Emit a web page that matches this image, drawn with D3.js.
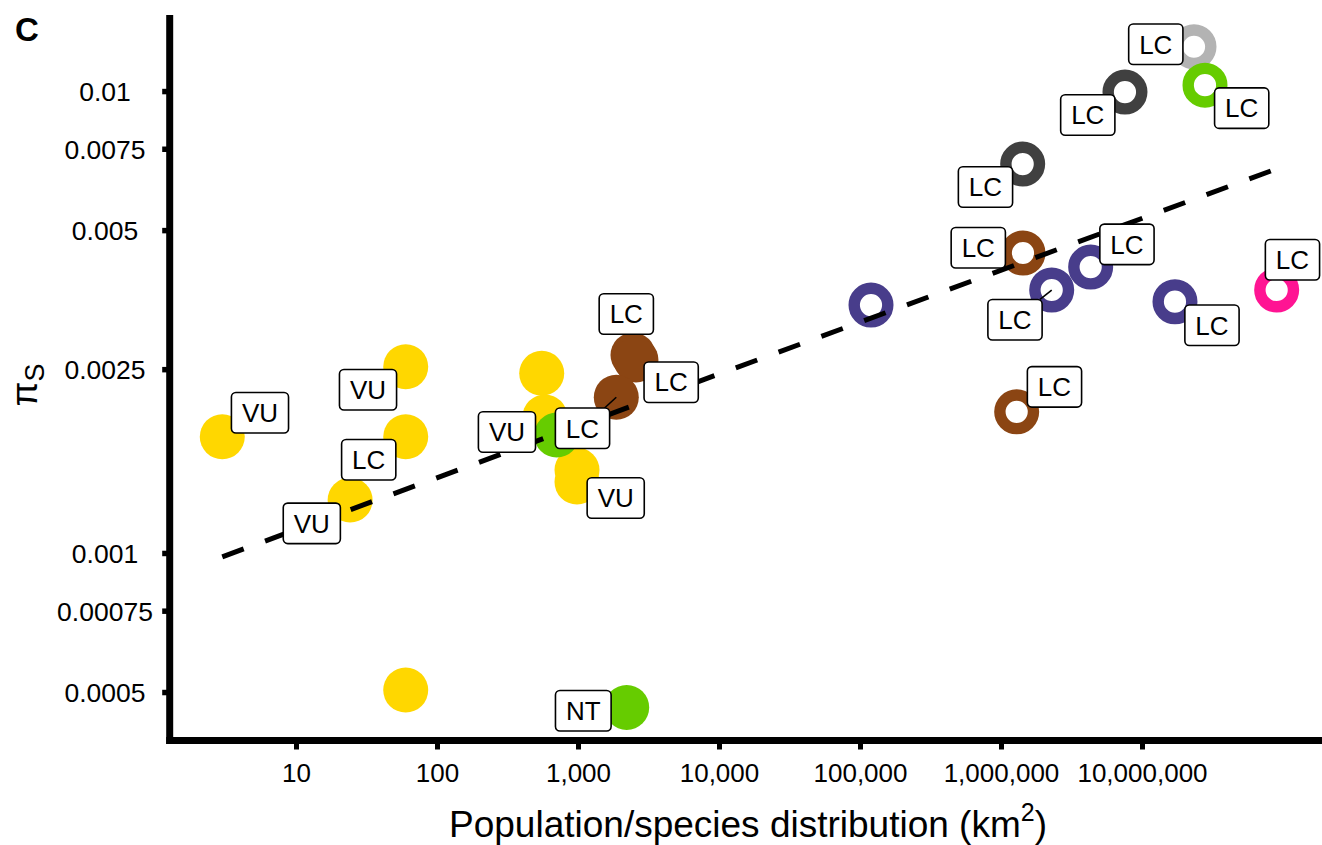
<!DOCTYPE html>
<html><head><meta charset="utf-8">
<script src="https://cdn.jsdelivr.net/npm/d3@7"></script>
<style>
body{margin:0;background:#fff}
text{font-family:"Liberation Sans",Arial,Helvetica,sans-serif;fill:#000}
</style>
</head><body>
<svg id="chart" width="1322" height="845"></svg>
<script>
// ---------- data ----------
const area  = [3.0, 60, 60, 24.2, 553, 583, 984, 984, 60, 706, 2215, 2455, 2577, 1869,
               1.197e5, 1.292e6, 1.432e6, 1.425e6, 2.289e6, 4.325e6, 1.714e7, 7.574e6, 2.338e7, 2.798e7, 9.02e7];
const piS   = [0.001785, 0.00253, 0.001785, 0.001302, 0.002449, 0.00197, 0.001512, 0.001424, 0.000505, 0.0018, 0.000463, 0.002683, 0.002617, 0.002173,
               0.003441, 0.002021, 0.004461, 0.00695, 0.003709, 0.004159, 0.003499, 0.00995, 0.01247, 0.0103, 0.003709];
const group = ["yellow","yellow","yellow","yellow","yellow","yellow","yellow","yellow","yellow","green","green","brown","brown","brown",
               "purple","brown","brown","darkgrey","purple","purple","purple","darkgrey","lightgrey","green","pink"];
const level = ["population","population","population","population","population","population","population","population","population","population","population","population","population","population",
               "species","species","species","species","species","species","species","species","species","species","species"];
const iucn  = ["VU","VU","LC","VU","","VU","","VU","","","NT","LC","LC","LC",
               "","LC","LC","LC","LC","LC","LC","LC","LC","LC","LC"];
const fitX = [3.0, 9.02e7];
const fitY = [0.000981, 0.006787];
const xTicks = [10, 100, 1000, 10000, 100000, 1000000, 10000000];
const yTicks = [0.0005, 0.00075, 0.001, 0.0025, 0.005, 0.0075, 0.01];
const yTickLabels = ["0.0005", "0.00075", "0.001", "0.0025", "0.005", "0.0075", "0.01"];

// ---------- layout / style ----------
const groupColor = {yellow:"#FFD700", green:"#66CC00", brown:"#8B4513", purple:"#483D8B",
                    pink:"#FF1493", darkgrey:"#404040", lightgrey:"#B3B3B3"};
const labelOffset = [[37.7,-24],[-37.7,23],[-37,23],[-38.3,23.3],null,[-38,15],null,[38.7,16],null,null,[-43.4,3.3],[-6.7,-41],[35.2,22.2],[-33.8,31],
                     null,[37.8,-25],[-44.7,-5.2],[-37.2,23],[-36.7,29.7],[36.3,-22.7],[37,23.6],[-37.2,23],[-38.2,-2.5],[36.7,23],[15.8,-30.3]];
const labelSegment = [13, 18];

const svg = d3.select("#chart");
svg.append("rect").attr("width",1322).attr("height",845).attr("fill","#fff");

const x = d3.scaleLog().domain([1.2776, 1.891e8]).range([170, 1322]);
const y = d3.scaleLog().domain([0.0003917, 0.01461]).range([741, 15]);

const pts = area.map((a,i)=>({a, p:piS[i], g:group[i], lv:level[i], lab:iucn[i], off:labelOffset[i], i}));

// axes
const yAx = svg.append("g").attr("transform","translate(169.7,0)")
  .call(d3.axisLeft(y).tickValues(yTicks).tickSize(7.5).tickPadding(0).tickFormat((d,i)=>yTickLabels[i]));
yAx.select(".domain").remove();
yAx.selectAll(".tick line").attr("stroke","#000").attr("stroke-width",5.5);
yAx.selectAll(".tick text").attr("text-anchor","middle").attr("x",105-169.7).attr("dy",null)
  .attr("y",9.5).style("font-size","26.5px").attr("fill","#000");

const xAx = svg.append("g").attr("transform","translate(0,744)")
  .call(d3.axisBottom(x).tickValues(xTicks).tickSize(5.5).tickPadding(0).tickFormat(d3.format(",")));
xAx.select(".domain").remove();
xAx.selectAll(".tick line").attr("stroke","#000").attr("stroke-width",5);
xAx.selectAll(".tick text").attr("dy",null).attr("y",38).style("font-size","26px").attr("fill","#000");

// axis lines
svg.append("line").attr("x1",169.7).attr("x2",169.7).attr("y1",15).attr("y2",744).attr("stroke","#000").attr("stroke-width",7);
svg.append("line").attr("x1",166.2).attr("x2",1322).attr("y1",740.5).attr("y2",740.5).attr("stroke","#000").attr("stroke-width",7);

// points
const R = 22.5;
svg.append("g").selectAll("circle").data(pts).join("circle")
  .attr("cx",d=>x(d.a)).attr("cy",d=>y(d.p))
  .attr("r",d=>d.lv==="population"?R:16.8)
  .attr("fill",d=>d.lv==="population"?groupColor[d.g]:"#fff")
  .attr("stroke",d=>d.lv==="population"?"none":groupColor[d.g])
  .attr("stroke-width",d=>d.lv==="population"?0:11.4);

// regression line
svg.append("path")
  .attr("d", d3.line().x(d=>x(d[0])).y(d=>y(d[1]))([[fitX[0],fitY[0]],[fitX[1],fitY[1]]]))
  .attr("fill","none").attr("stroke","#000").attr("stroke-width",5).attr("stroke-dasharray","22.8,22.8");

// labels
const charW = {V:0.667,U:0.722,L:0.556,C:0.722,N:0.722,T:0.611};
const FS = 26, BH = 40.5;
const labs = pts.filter(d=>d.lab && d.off);
const lg = svg.append("g");
labs.forEach(d=>{
  const px = x(d.a), py = y(d.p);
  const cx = px + d.off[0], cy = py + d.off[1];
  const tw = d.lab.split("").reduce((s,c)=>s+charW[c],0)*FS;
  const bw = tw + 21;
  if (labelSegment.includes(d.i)) {
    const dx = cx-px, dy = cy-py;
    const t = Math.max(1-(bw/2)/Math.abs(dx), 1-(BH/2)/Math.abs(dy));
    lg.append("line").attr("x1",px).attr("y1",py).attr("x2",px+t*dx).attr("y2",py+t*dy)
      .attr("stroke","#000").attr("stroke-width",1.6);
  }
  lg.append("rect").attr("x",cx-bw/2).attr("y",cy-BH/2).attr("width",bw).attr("height",BH)
    .attr("rx",4.5).attr("fill","#fff").attr("stroke","#000").attr("stroke-width",1.6);
  lg.append("text").attr("x",cx).attr("y",cy+9.3).attr("text-anchor","middle")
    .style("font-size",FS+"px").text(d.lab);
});

// titles
svg.append("text").attr("x",15).attr("y",41).style("font-size","33px").style("font-weight","bold").text("C");
const xt = svg.append("text").attr("x",748).attr("y",837).attr("text-anchor","middle").style("font-size","37px");
xt.append("tspan").text("Population/species distribution (km");
xt.append("tspan").attr("dy",-16).style("font-size","25px").text("2");
xt.append("tspan").attr("dy",16).text(")");
const yt = svg.append("text").attr("transform","translate(37,385) rotate(-90)").attr("text-anchor","middle").style("font-size","36px");
yt.append("tspan").text("π");
yt.append("tspan").attr("dy",7).style("font-size","27px").text("S");
</script>
</body></html>
